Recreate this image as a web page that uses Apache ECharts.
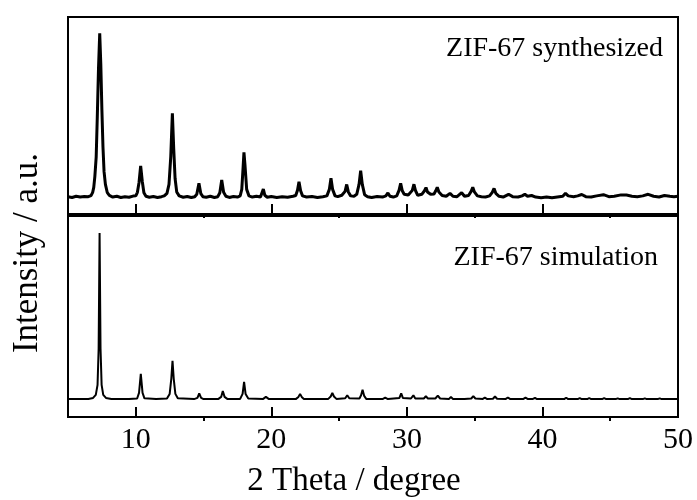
<!DOCTYPE html>
<html>
<head>
<meta charset="utf-8">
<script src="https://cdn.jsdelivr.net/npm/echarts@6/dist/echarts.min.js"></script>
<style>html,body{margin:0;padding:0;background:#fff}#c{width:697px;height:500px}</style>
</head>
<body>
<div id="c"></div>
<script>
// ---- data ----
var majorTicks = [10, 20, 30, 40, 50];
var minorTicks = [15, 25, 35, 45];
var panelLabels = ['ZIF-67 synthesized', 'ZIF-67 simulation'];
var xTitle = '2 Theta / degree';
var yTitle = 'Intensity / a.u.';

var synthesizedTheta = [5.0,5.3,5.6,5.9,6.2,6.5,6.7,6.82,6.9,6.98,7.08,7.16,7.25,7.34,7.42,7.5,7.58,7.66,7.76,7.9,8.05,8.3,8.6,8.9,9.2,9.5,9.8,10.0,10.12,10.24,10.36,10.48,10.6,10.75,11.0,11.3,11.6,11.9,12.1,12.3,12.45,12.58,12.7,12.8,12.9,13.02,13.2,13.5,13.8,14.1,14.35,14.5,14.66,14.8,14.95,15.2,15.5,15.8,16.05,16.2,16.34,16.48,16.65,16.9,17.2,17.5,17.7,17.82,17.92,17.98,18.06,18.18,18.35,18.6,18.9,19.2,19.3,19.41,19.52,19.7,20.0,20.4,20.8,21.2,21.6,21.8,21.93,22.04,22.16,22.3,22.6,23.0,23.4,23.8,24.1,24.28,24.4,24.52,24.7,24.9,25.2,25.44,25.56,25.68,25.85,26.1,26.3,26.47,26.59,26.71,26.88,27.1,27.4,27.8,28.2,28.45,28.6,28.75,29.0,29.25,29.42,29.54,29.66,29.8,30.1,30.4,30.52,30.64,30.8,31.1,31.3,31.41,31.52,31.75,32.0,32.13,32.24,32.36,32.6,32.9,33.18,33.4,33.7,34.04,34.25,34.55,34.74,34.86,34.98,35.2,35.5,35.8,36.1,36.3,36.43,36.56,36.8,37.1,37.5,37.8,38.2,38.5,38.7,38.9,39.2,39.5,39.9,40.3,40.7,41.1,41.5,41.7,41.9,42.3,42.6,42.9,43.2,43.6,44.0,44.5,44.9,45.3,45.8,46.2,46.6,47.0,47.4,47.8,48.2,48.6,49.0,49.4,49.7,50.0];
var synthesizedIntensity = [88,84,90,86,89,88,93,110,135,190,290,490,740,917,760,530,340,215,150,108,94,86,90,84,88,85,91,92,110,160,244,165,108,90,85,89,84,88,92,105,150,290,511,330,180,112,92,85,89,84,88,100,156,103,88,85,90,84,88,108,173,110,90,84,89,86,92,125,240,313,245,125,92,86,90,86,95,127,95,85,89,84,88,85,90,94,120,164,118,92,86,89,84,88,92,125,181,125,92,88,95,115,150,112,92,90,100,150,220,150,98,88,84,89,86,92,107,90,86,92,120,156,118,100,96,120,151,118,95,100,118,134,112,100,102,118,136,112,94,90,105,90,88,108,90,94,115,136,112,92,88,86,92,110,130,105,90,86,100,88,86,92,100,90,94,86,83,86,82,86,90,105,92,88,92,99,88,86,92,98,88,90,97,96,90,88,92,100,90,86,94,90,88,90];

var simulationTheta = [5.0,6.5,6.85,7.05,7.18,7.26,7.33,7.4,7.48,7.6,7.8,8.2,9.5,10.1,10.24,10.37,10.5,10.64,11.5,12.3,12.5,12.62,12.71,12.8,12.92,13.1,14.3,14.55,14.68,14.82,15.0,16.1,16.3,16.42,16.55,16.75,17.7,17.88,17.99,18.1,18.3,19.4,19.6,19.8,21.8,22.0,22.12,22.24,22.4,24.2,24.38,24.5,24.62,24.8,25.45,25.6,25.75,26.5,26.62,26.73,26.85,27.0,28.2,28.4,28.6,29.45,29.58,29.7,30.3,30.48,30.62,31.25,31.4,31.55,32.1,32.28,32.45,33.1,33.25,33.4,34.0,34.12,34.25,34.75,34.9,35.05,35.6,35.75,35.9,36.35,36.5,36.65,37.3,37.45,37.6,38.6,38.75,38.9,39.3,39.45,39.6,41.6,41.75,41.9,42.6,42.75,42.9,43.3,43.45,43.6,44.4,44.55,44.7,45.4,45.55,45.7,46.3,46.45,46.6,47.4,47.55,47.7,48.5,48.65,48.8,50.0];
var simulationIntensity = [89,90,95,110,160,340,916,340,160,110,95,90,89,92,120,215,120,93,89,92,115,190,280,190,115,93,89,95,117,95,89,90,100,129,100,90,90,115,175,115,92,90,100,90,89,100,115,100,90,90,102,120,102,90,93,108,93,92,108,135,105,90,89,96,89,95,118,95,92,108,92,92,103,92,92,106,92,90,99,90,90,97,90,92,104,92,90,96,90,91,102,91,90,97,90,90,96,90,90,95,89,89,96,89,89,94,89,89,94,89,89,94,89,89,93,89,89,94,89,89,93,89,89,93,89,89];

function pairs(xs, ys) { return xs.map(function (x, i) { return [x, ys[i]]; }); }

var FONT = 'Liberation Serif';
function majorAxis(gridIndex, showLabels) {
  return {
    type: 'value', gridIndex: gridIndex, min: 5, max: 50, position: 'bottom',
    axisLine: { show: true, onZero: false, lineStyle: { color: '#000', width: 2 } },
    splitLine: { show: false },
    axisTick: { show: true, inside: true, length: 10, customValues: majorTicks, lineStyle: { color: '#000', width: 2 } },
    axisLabel: { show: showLabels, customValues: majorTicks, margin: 8, color: '#000', fontSize: 30, fontFamily: FONT }
  };
}
function minorAxis(gridIndex) {
  return {
    type: 'value', gridIndex: gridIndex, min: 5, max: 50, position: 'bottom',
    axisLine: { show: false, onZero: false },
    splitLine: { show: false },
    axisTick: { show: true, inside: false, length: 4, customValues: minorTicks, lineStyle: { color: '#000', width: 2 } },
    axisLabel: { show: false }
  };
}
var upperRect = { left: 68, right: 19, top: 17, height: 197 };
var lowerRect = { left: 68, right: 19, top: 216, height: 201 };
function gridOf(rect, visible) {
  return Object.assign({}, rect, { show: visible, borderColor: '#000', borderWidth: 2, backgroundColor: 'transparent' });
}

var chart = echarts.init(document.getElementById('c'), null, { renderer: 'canvas' });
chart.setOption({
  animation: false,
  backgroundColor: '#fff',
  grid: [gridOf(upperRect, true), gridOf(lowerRect, true), gridOf(upperRect, false), gridOf(lowerRect, false)],
  xAxis: [majorAxis(0, false), majorAxis(1, true), minorAxis(2), minorAxis(3)],
  yAxis: [
    { type: 'value', gridIndex: 0, min: 0, max: 1000, show: false },
    { type: 'value', gridIndex: 1, min: 0, max: 1000, show: false },
    { type: 'value', gridIndex: 2, min: 0, max: 1000, show: false },
    { type: 'value', gridIndex: 3, min: 0, max: 1000, show: false }
  ],
  series: [
    { type: 'line', xAxisIndex: 0, yAxisIndex: 0, data: pairs(synthesizedTheta, synthesizedIntensity), showSymbol: false, lineStyle: { color: '#000', width: 3 } },
    { type: 'line', xAxisIndex: 1, yAxisIndex: 1, data: pairs(simulationTheta, simulationIntensity), showSymbol: false, lineStyle: { color: '#000', width: 2 } }
  ],
  graphic: [
    { type: 'text', x: 663, y: 49, style: { text: panelLabels[0], font: '28px "Liberation Serif"', fill: '#000', align: 'right', verticalAlign: 'middle' } },
    { type: 'text', x: 658, y: 258, style: { text: panelLabels[1], font: '28px "Liberation Serif"', fill: '#000', align: 'right', verticalAlign: 'middle' } },
    { type: 'text', x: 354, y: 481, style: { text: xTitle, font: '33px "Liberation Serif"', fill: '#000', align: 'center', verticalAlign: 'middle' } },
    { type: 'text', x: 28, y: 253, rotation: Math.PI / 2, style: { text: yTitle, font: '35px "Liberation Serif"', fill: '#000', align: 'center', verticalAlign: 'middle' } }
  ]
});
</script>
</body>
</html>
